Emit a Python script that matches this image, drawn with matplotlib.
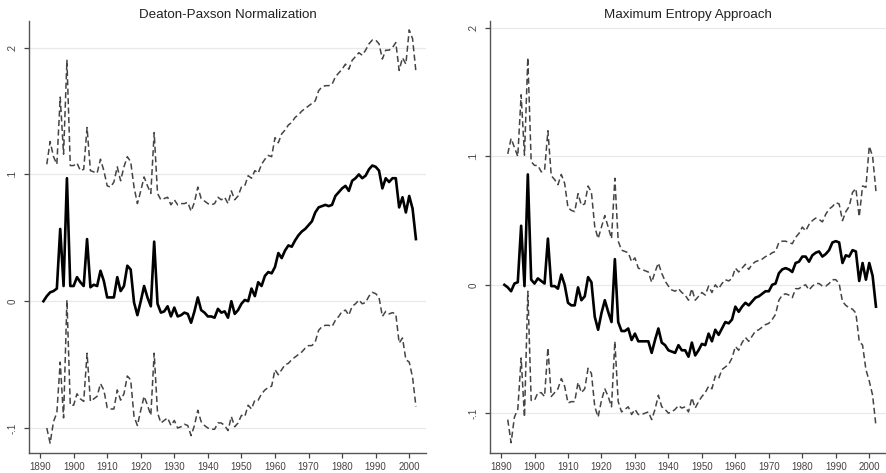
import numpy as np
import matplotlib
matplotlib.use("Agg")
import matplotlib.pyplot as plt

plt.rcParams["font.family"] = ["Liberation Sans", "DejaVu Sans"]

years_c = list(range(1891, 2003))
years_b = list(range(1892, 2003))

dp_center = [0.000, 0.004, 0.007, 0.008, 0.010, 0.057, 0.012, 0.097, 0.012, 0.012,
             0.019, 0.015, 0.012, 0.049, 0.011, 0.013, 0.012, 0.024, 0.016, 0.003,
             0.003, 0.003, 0.019, 0.008, 0.012, 0.028, 0.025, -0.001, -0.011, 0.000,
             0.012, 0.003, -0.004, 0.047, -0.002, -0.009, -0.008, -0.004, -0.012, -0.005,
             -0.012, -0.011, -0.009, -0.010, -0.017, -0.008, 0.003, -0.007, -0.009, -0.012,
             -0.012, -0.013, -0.006, -0.009, -0.008, -0.013, 0.000, -0.010, -0.007, -0.002,
             0.001, 0.000, 0.010, 0.004, 0.015, 0.012, 0.020, 0.023, 0.022, 0.027,
             0.038, 0.034, 0.040, 0.044, 0.043, 0.048, 0.052, 0.055, 0.057, 0.060,
             0.063, 0.070, 0.074, 0.075, 0.076, 0.075, 0.076, 0.083, 0.086, 0.089,
             0.091, 0.087, 0.095, 0.097, 0.100, 0.097, 0.099, 0.104, 0.107, 0.106,
             0.103, 0.089, 0.097, 0.094, 0.097, 0.097, 0.074, 0.082, 0.070, 0.083,
             0.073, 0.049]

dp_upper = [0.108, 0.126, 0.114, 0.108, 0.161, 0.116, 0.190, 0.107, 0.107, 0.109,
            0.103, 0.104, 0.137, 0.103, 0.102, 0.101, 0.112, 0.103, 0.091, 0.090,
            0.094, 0.106, 0.095, 0.106, 0.114, 0.110, 0.090, 0.077, 0.087, 0.098,
            0.091, 0.085, 0.133, 0.085, 0.080, 0.081, 0.082, 0.076, 0.080, 0.076,
            0.077, 0.077, 0.078, 0.071, 0.078, 0.090, 0.081, 0.079, 0.077, 0.076,
            0.077, 0.082, 0.080, 0.082, 0.077, 0.087, 0.080, 0.083, 0.090, 0.091,
            0.099, 0.097, 0.103, 0.101, 0.108, 0.112, 0.115, 0.114, 0.129, 0.125,
            0.132, 0.135, 0.139, 0.141, 0.145, 0.147, 0.150, 0.152, 0.154, 0.156,
            0.158, 0.166, 0.169, 0.170, 0.170, 0.171, 0.177, 0.180, 0.183, 0.187,
            0.183, 0.190, 0.193, 0.196, 0.194, 0.198, 0.203, 0.206, 0.206, 0.203,
            0.191, 0.198, 0.198, 0.200, 0.204, 0.182, 0.192, 0.187, 0.214, 0.207,
            0.181]

dp_lower = [-0.100, -0.112, -0.095, -0.088, -0.048, -0.092, 0.001, -0.082, -0.082, -0.073,
            -0.077, -0.079, -0.041, -0.079, -0.077, -0.075, -0.065, -0.070, -0.084, -0.085,
            -0.085, -0.070, -0.078, -0.073, -0.059, -0.062, -0.091, -0.098, -0.086, -0.075,
            -0.082, -0.090, -0.041, -0.088, -0.096, -0.094, -0.092, -0.098, -0.094, -0.100,
            -0.099, -0.097, -0.098, -0.106, -0.098, -0.086, -0.095, -0.098, -0.100, -0.101,
            -0.101, -0.096, -0.096, -0.098, -0.102, -0.091, -0.099, -0.096, -0.090, -0.091,
            -0.082, -0.085, -0.078, -0.078, -0.073, -0.070, -0.068, -0.067, -0.054, -0.058,
            -0.054, -0.050, -0.049, -0.046, -0.044, -0.042, -0.040, -0.037, -0.035, -0.035,
            -0.032, -0.023, -0.020, -0.019, -0.019, -0.020, -0.015, -0.012, -0.008, -0.007,
            -0.011, -0.004, -0.002, 0.001, -0.002, -0.001, 0.004, 0.007, 0.006, 0.003,
            -0.012, -0.008, -0.010, -0.009, -0.010, -0.033, -0.029, -0.046, -0.048, -0.060,
            -0.083]

me_center = [0.000, -0.002, -0.005, 0.001, 0.002, 0.046, -0.001, 0.086, 0.004, 0.001,
             0.005, 0.003, 0.001, 0.036, -0.001, -0.001, -0.003, 0.008, 0.000, -0.014,
             -0.016, -0.016, -0.002, -0.012, -0.009, 0.006, 0.002, -0.025, -0.035, -0.022,
             -0.012, -0.021, -0.029, 0.020, -0.029, -0.036, -0.036, -0.034, -0.043, -0.038,
             -0.044, -0.044, -0.044, -0.044, -0.053, -0.043, -0.034, -0.045, -0.047, -0.051,
             -0.052, -0.053, -0.047, -0.051, -0.051, -0.056, -0.045, -0.055, -0.051, -0.046,
             -0.047, -0.038, -0.044, -0.035, -0.039, -0.034, -0.029, -0.030, -0.027, -0.017,
             -0.021, -0.017, -0.014, -0.016, -0.013, -0.010, -0.009, -0.007, -0.005, -0.005,
             0.000, 0.001, 0.009, 0.012, 0.013, 0.012, 0.010, 0.017, 0.018, 0.022,
             0.022, 0.018, 0.023, 0.025, 0.026, 0.022, 0.024, 0.027, 0.033, 0.034,
             0.033, 0.017, 0.023, 0.022, 0.027, 0.026, 0.003, 0.017, 0.004, 0.017,
             0.007, -0.017]

me_upper = [0.102, 0.114, 0.107, 0.100, 0.148, 0.101, 0.177, 0.096, 0.093, 0.093,
            0.088, 0.089, 0.120, 0.085, 0.082, 0.078, 0.086, 0.079, 0.060, 0.058,
            0.057, 0.071, 0.062, 0.063, 0.077, 0.072, 0.045, 0.036, 0.045, 0.054,
            0.045, 0.036, 0.083, 0.034, 0.027, 0.026, 0.025, 0.018, 0.021, 0.013,
            0.012, 0.011, 0.010, 0.002, 0.010, 0.017, 0.009, 0.003, -0.001, -0.004,
            -0.005, -0.003, -0.006, -0.008, -0.012, -0.003, -0.012, -0.009, -0.006, -0.008,
            -0.001, -0.006, 0.000, -0.003, 0.001, 0.004, 0.003, 0.005, 0.013, 0.010,
            0.013, 0.016, 0.012, 0.016, 0.018, 0.019, 0.020, 0.022, 0.023, 0.025,
            0.026, 0.033, 0.034, 0.034, 0.033, 0.032, 0.037, 0.040, 0.045, 0.042,
            0.047, 0.050, 0.052, 0.051, 0.049, 0.055, 0.059, 0.061, 0.064, 0.063,
            0.050, 0.057, 0.061, 0.072, 0.075, 0.053, 0.077, 0.076, 0.108, 0.100,
            0.073]

me_lower = [-0.105, -0.123, -0.103, -0.097, -0.057, -0.103, -0.005, -0.090, -0.090, -0.084,
            -0.084, -0.087, -0.049, -0.087, -0.084, -0.081, -0.073, -0.079, -0.092, -0.091,
            -0.091, -0.076, -0.084, -0.081, -0.065, -0.069, -0.095, -0.103, -0.090, -0.081,
            -0.087, -0.095, -0.044, -0.091, -0.099, -0.097, -0.095, -0.101, -0.097, -0.101,
            -0.101, -0.100, -0.099, -0.105, -0.097, -0.086, -0.095, -0.097, -0.100, -0.099,
            -0.097, -0.094, -0.096, -0.095, -0.099, -0.088, -0.096, -0.091, -0.087, -0.084,
            -0.079, -0.081, -0.071, -0.073, -0.066, -0.064, -0.062, -0.057, -0.048, -0.051,
            -0.045, -0.041, -0.044, -0.040, -0.036, -0.035, -0.033, -0.031, -0.030, -0.027,
            -0.023, -0.012, -0.008, -0.007, -0.008, -0.010, -0.003, -0.003, -0.001, 0.000,
            -0.004, -0.001, 0.001, 0.001, -0.001, -0.001, 0.001, 0.004, 0.004, 0.001,
            -0.013, -0.016, -0.018, -0.019, -0.022, -0.044, -0.047, -0.066, -0.075, -0.086,
            -0.110]

titles = ["Deaton-Paxson Normalization", "Maximum Entropy Approach"]
x_ticks = list(range(1890, 2001, 10))
y_ticks = [-0.1, 0.0, 0.1, 0.2]
y_ticklabels = ["-.1", "0", ".1", ".2"]

W, H = 886, 473
fig = plt.figure(figsize=(W / 100, H / 100), dpi=100)
fig.patch.set_facecolor("white")

panels = [
    (titles[0], dp_center, dp_upper, dp_lower, (29, 426), (-0.1197, 0.221)),
    (titles[1], me_center, me_upper, me_lower, (490, 886), (-0.131, 0.2055)),
]
top_px, bot_px = 21, 453

for title, c, u, l, (x0, x1), ylim in panels:
    ax = fig.add_axes([x0 / W, (H - bot_px) / H, (x1 - x0) / W, (bot_px - top_px) / H])
    ax.set_xlim(1886.7, 2005.0)
    ax.set_ylim(*ylim)
    for yv in y_ticks:
        ax.axhline(yv, color="#e9e9e9", lw=0.9, zorder=0)
    ax.plot(years_b, u, color="#444444", lw=1.1, dashes=(4, 2.2), zorder=2)
    ax.plot(years_b, l, color="#444444", lw=1.1, dashes=(4, 2.2), zorder=2)
    ax.plot(years_c, c, color="black", lw=1.9, zorder=3)
    ax.set_xticks(x_ticks)
    ax.set_xticklabels([str(t) for t in x_ticks])
    ax.set_yticks(y_ticks)
    ax.set_yticklabels(y_ticklabels, rotation=90, va="center")
    ax.tick_params(axis="both", labelsize=7, colors="#444444", length=3.5, width=0.9,
                   labelcolor="#444444")
    ax.tick_params(axis="x", pad=3)
    ax.tick_params(axis="y", pad=5)
    for s in ["top", "right"]:
        ax.spines[s].set_visible(False)
    for s in ["left", "bottom"]:
        ax.spines[s].set_color("#555555")
        ax.spines[s].set_linewidth(1.0)
    ax.set_title(title, fontsize=9.6, color="#222222", pad=2)

fig.savefig("out.png", dpi=100, facecolor="white")
